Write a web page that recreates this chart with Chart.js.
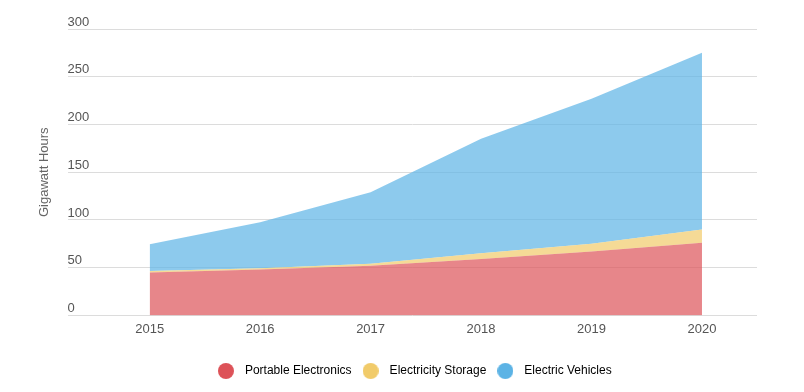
<!DOCTYPE html>
<html>
<head>
<meta charset="utf-8">
<script src="https://cdn.jsdelivr.net/npm/chart.js@4/dist/chart.umd.min.js"></script>
<style>
  html, body { margin: 0; padding: 0; background: #fff; }
  #wrap { width: 804px; height: 392px; }
</style>
</head>
<body>
<div id="wrap"><canvas id="batteryChart"></canvas></div>
<script>
// Data
const years = [2015, 2016, 2017, 2018, 2019, 2020];
const portableElectronics = [45, 48, 52, 59, 67, 76];
const electricityStorage = [1.5, 1.5, 2, 6, 8, 14];
const electricVehicles = [28, 48, 75, 120, 152, 185];
const yTicks = [0, 50, 100, 150, 200, 250, 300];

const seriesNames = ['Portable Electronics', 'Electricity Storage', 'Electric Vehicles'];
const solidColors = ['#dd5258', '#f1cb6a', '#5cb3e5'];
const fillColors = ['rgba(221, 82, 88, 0.7)', 'rgba(241, 203, 106, 0.7)', 'rgba(92, 179, 229, 0.7)'];

const FONT = 'Liberation Sans, Arial, sans-serif';

const toPoints = (vals) => years.map((yr, i) => ({ x: yr, y: vals[i] }));

// little round markers for the legend (drawn as images so the gap to the text can be set)
function makeDot(color) {
  const c = document.createElement('canvas');
  c.width = 16;
  c.height = 16;
  const g = c.getContext('2d');
  g.fillStyle = color;
  g.beginPath();
  g.arc(8, 8, 8, 0, Math.PI * 2);
  g.fill();
  return c;
}
const dots = solidColors.map(makeDot);

const ctx = document.getElementById('batteryChart').getContext('2d');

const batteryChart = new Chart(ctx, {
  type: 'line',
  data: {
    datasets: [portableElectronics, electricityStorage, electricVehicles].map((vals, i) => ({
      label: seriesNames[i],
      data: toPoints(vals),
      backgroundColor: fillColors[i],
      borderColor: fillColors[i],
      borderWidth: 0,
      pointRadius: 0,
      pointHoverRadius: 0,
      tension: 0,
      fill: i === 0 ? 'origin' : '-1'
    }))
  },
  options: {
    responsive: true,
    maintainAspectRatio: false,
    animation: false,
    layout: {
      padding: { left: 37, right: 47, top: 29, bottom: 5 }
    },
    plugins: {
      tooltip: { enabled: false },
      legend: {
        position: 'bottom',
        fullSize: false,
        labels: {
          usePointStyle: true,
          pointStyleWidth: 26,
          color: '#555',
          padding: 6,
          font: { family: FONT, size: 12 },
          generateLabels: (chart) => chart.data.datasets.map((ds, i) => ({
            text: ds.label,
            fillStyle: solidColors[i],
            strokeStyle: solidColors[i],
            lineWidth: 0,
            pointStyle: dots[i],
            hidden: false,
            datasetIndex: i
          }))
        }
      }
    },
    scales: {
      x: {
        type: 'linear',
        min: 2014.257,
        max: 2020.498,
        grid: { display: false, drawTicks: false },
        border: { display: false },
        afterBuildTicks: (scale) => {
          scale.ticks = years.map(v => ({ value: v }));
        },
        afterFit: (scale) => {
          scale.height += 16;
        },
        ticks: {
          color: '#555',
          padding: 6,
          maxRotation: 0,
          font: { family: FONT, size: 13 },
          callback: (v) => String(v)
        }
      },
      y: {
        stacked: true,
        min: 0,
        max: 300,
        afterBuildTicks: (scale) => {
          scale.ticks = yTicks.map(v => ({ value: v }));
        },
        grid: { color: '#dcdcdc', drawTicks: false },
        border: { display: false },
        ticks: {
          mirror: true,
          padding: 0,
          labelOffset: -7,
          color: '#555',
          font: { family: FONT, size: 13 }
        },
        title: {
          display: true,
          text: 'Gigawatt Hours',
          color: '#666',
          padding: { top: 0, bottom: 15 },
          font: { family: FONT, size: 13 }
        }
      }
    }
  }
});
</script>
</body>
</html>
